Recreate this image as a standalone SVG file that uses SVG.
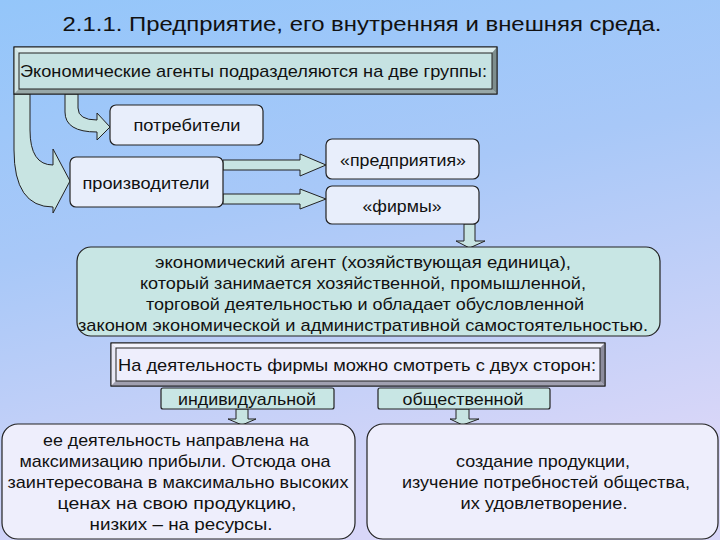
<svg xmlns="http://www.w3.org/2000/svg" width="720" height="540" viewBox="0 0 720 540">
<defs>
<linearGradient id="bg" x1="0" y1="0" x2="0.3" y2="1">
<stop offset="0" stop-color="#94c6fa"/>
<stop offset="0.45" stop-color="#a8c8f8"/>
<stop offset="1" stop-color="#d8d6f8"/>
</linearGradient>
<style>
text{font-family:"Liberation Sans",Arial,sans-serif;fill:#111;}
.t{font-size:17px;}
.c{text-anchor:middle;}
.box{fill:#e8eefb;stroke:#222;stroke-width:1.2;}
.teal{fill:#c8e6e4;stroke:#222;stroke-width:1.2;}
.arr{fill:#c8e4e2;stroke:#222;stroke-width:1;stroke-linejoin:miter;}
.lav{fill:#eeeefc;stroke:#222;stroke-width:1.2;}
</style>
</defs>
<rect x="0" y="0" width="720" height="540" fill="url(#bg)"/>
<text id="title" x="362" y="31" font-size="20" class="c" textLength="599" lengthAdjust="spacingAndGlyphs">2.1.1. Предприятие, его внутренняя и внешняя среда.</text>

<g id="connectors">
<path class="arr" d="M14,94 L14,150 Q14,207 53,207 L53,213 L70,181 L53,149 L53,165 Q30,165 30,130 L30,94 Z"/>
<path class="arr" d="M65,94 L65,112 Q65,132 97,132 L97,140 L110,127 L97,113 L97,120 Q78,120 78,108 L78,94 Z"/>
<path class="arr" d="M223,160 L300,160 L300,154 L326,165 L300,176 L300,170 L223,170 Z"/>
<path class="arr" d="M223,194 L300,194 L300,189 L326,199 L300,209 L300,204 L223,204 Z"/>
<path class="arr" d="M464,224 L475,224 L475,241 L485,241 L469.5,248 L456,241 L464,241 Z"/>
<path class="arr" d="M236,409 L248,409 L248,419 L256,419 L242,425 L228,419 L236,419 Z"/>
<path class="arr" d="M456,409 L469,409 L469,419 L479,419 L462.5,425 L450,419 L456,419 Z"/>
</g>

<g id="n-agents">
<rect x="14" y="47" width="483" height="47" fill="#b8cccc" stroke="#222" stroke-width="1"/>
<polygon points="14,47 497,47 492,53 19,53" fill="#dcecec"/>
<polygon points="14,47 19,53 19,89 14,94" fill="#d0e4e4"/>
<polygon points="497,47 497,94 492,89 492,53" fill="#7e8e8e"/>
<polygon points="14,94 497,94 492,89 19,89" fill="#98a8a8"/>
<rect x="19" y="53" width="473" height="36" fill="#c6e2e2" stroke="#222" stroke-width="1"/>
<rect x="14" y="47" width="483" height="47" fill="none" stroke="#222" stroke-width="1"/>
<text x="20" y="77" class="t" textLength="467" lengthAdjust="spacingAndGlyphs">Экономические агенты подразделяются на две группы:</text>
</g>

<g id="n-consumers">
<rect class="box" x="110" y="105" width="153" height="40" rx="6"/>
<text x="187" y="131" class="t c" textLength="107" lengthAdjust="spacingAndGlyphs">потребители</text>
</g>

<g id="n-producers">
<rect class="box" x="70" y="157" width="153" height="50" rx="6"/>
<text x="146" y="189" class="t c" textLength="127" lengthAdjust="spacingAndGlyphs">производители</text>
</g>

<g id="n-enterprises">
<rect class="box" x="326" y="139" width="153" height="40" rx="6"/>
<text x="403" y="166" class="t c" textLength="126" lengthAdjust="spacingAndGlyphs">«предприятия»</text>
</g>

<g id="n-firms">
<rect class="box" x="326" y="186" width="153" height="38" rx="6"/>
<text x="402" y="212" class="t c" textLength="79" lengthAdjust="spacingAndGlyphs">«фирмы»</text>
</g>

<g id="n-agent-def">
<rect class="teal" x="77" y="247" width="583" height="89" rx="14"/>
<text x="363" y="268" class="t c" textLength="416" lengthAdjust="spacingAndGlyphs">экономический агент (хозяйствующая единица),</text>
<text x="363" y="289" class="t c" textLength="446" lengthAdjust="spacingAndGlyphs">который занимается хозяйственной, промышленной,</text>
<text x="365" y="310" class="t c" textLength="438" lengthAdjust="spacingAndGlyphs">торговой деятельностью и обладает обусловленной</text>
<text x="363" y="331" class="t c" textLength="570" lengthAdjust="spacingAndGlyphs">законом экономической и административной самостоятельностью.</text>
</g>

<g id="n-two-sides">
<rect x="111" y="343" width="494" height="43" fill="#c8c8d8" stroke="#222" stroke-width="1"/>
<polygon points="111,343 605,343 600,348 116,348" fill="#f4f4fc"/>
<polygon points="111,343 116,348 116,381 111,386" fill="#e8e8f4"/>
<polygon points="605,343 605,386 600,381 600,348" fill="#8c8c9c"/>
<polygon points="111,386 605,386 600,381 116,381" fill="#a0a0b0"/>
<rect x="116" y="348" width="484" height="33" fill="#eeeefc" stroke="#222" stroke-width="1"/>
<rect x="111" y="343" width="494" height="43" fill="none" stroke="#222" stroke-width="1"/>
<text x="118" y="371" class="t" textLength="478" lengthAdjust="spacingAndGlyphs">На деятельность фирмы можно смотреть с двух сторон:</text>
</g>

<g id="n-individual">
<rect class="teal" x="161" y="388" width="173" height="21" rx="2"/>
<text x="247" y="405" class="t c" textLength="138" lengthAdjust="spacingAndGlyphs">индивидуальной</text>
</g>

<g id="n-social">
<rect class="teal" x="378" y="388" width="172" height="21" rx="2"/>
<text x="463" y="405" class="t c" textLength="121" lengthAdjust="spacingAndGlyphs">общественной</text>
</g>

<g id="n-individual-desc">
<rect class="lav" x="2" y="424" width="353" height="115" rx="16"/>
<text x="176" y="446" class="t c" textLength="266" lengthAdjust="spacingAndGlyphs">ее деятельность направлена на</text>
<text x="175" y="467" class="t c" textLength="311" lengthAdjust="spacingAndGlyphs">максимизацию прибыли. Отсюда она</text>
<text x="178" y="488" class="t c" textLength="341" lengthAdjust="spacingAndGlyphs">заинтересована в максимально высоких</text>
<text x="177" y="509" class="t c" textLength="239" lengthAdjust="spacingAndGlyphs">ценах на свою продукцию,</text>
<text x="181" y="530" class="t c" textLength="183" lengthAdjust="spacingAndGlyphs">низких – на ресурсы.</text>
</g>

<g id="n-social-desc">
<rect class="lav" x="367" y="424" width="351" height="115" rx="16"/>
<text x="543" y="467" class="t c" textLength="174" lengthAdjust="spacingAndGlyphs">создание продукции,</text>
<text x="546" y="488" class="t c" textLength="288" lengthAdjust="spacingAndGlyphs">изучение потребностей общества,</text>
<text x="544" y="509" class="t c" textLength="167" lengthAdjust="spacingAndGlyphs">их удовлетворение.</text>
</g>
</svg>
